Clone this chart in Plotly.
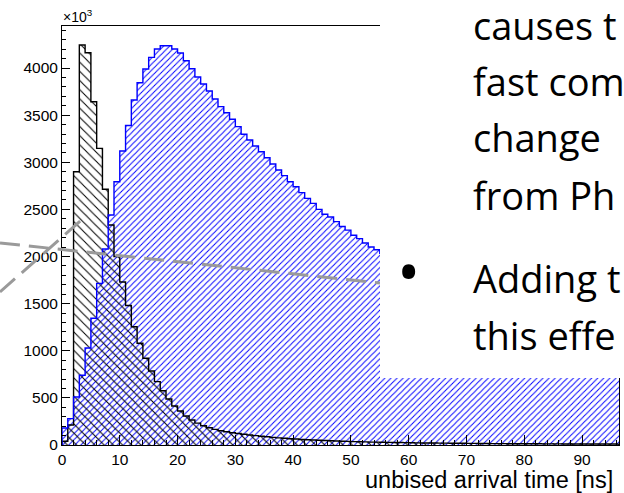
import plotly.graph_objects as go

# ---------------- data (1 ns bins, counts in units of 10^3) ----------------
bin_low = list(range(0, 97))

blue_counts = [
    180, 280, 510, 740, 1030, 1345, 1715, 2080, 2440, 2794,
    3120, 3390, 3660, 3844, 3990, 4113, 4202, 4237, 4237, 4202,
    4160, 4078, 3993, 3905, 3830, 3756, 3671, 3590, 3526, 3456,
    3378, 3297, 3236, 3172, 3112, 3048, 2981, 2918, 2858, 2794,
    2741, 2678, 2617, 2564, 2500, 2448, 2420, 2370, 2318, 2280,
    2225, 2190, 2143, 2101, 2072, 2035, 1998, 1962, 1927, 1893,
    1860, 1827, 1795, 1764, 1733, 1703, 1674, 1645, 1617, 1590,
    1563, 1537, 1511, 1486, 1461, 1437, 1413, 1390, 1367, 1345,
    1323, 1302, 1281, 1260, 1240, 1220, 1201, 1182, 1163, 1145,
    1127, 1110, 1093, 1076, 1060, 1044, 1028,
]

black_counts = [
    40, 212, 2900, 4244, 4162, 3642, 3148, 2713, 2334, 2000,
    1730, 1480, 1255, 1079, 920, 785, 672, 576, 488, 414,
    360, 308, 265, 232, 205, 183, 166, 152, 140, 130,
    122, 114, 106, 99, 93, 87, 81, 76, 71, 67,
    63, 59, 56, 53, 50, 47, 45, 42, 40, 38,
    36, 34, 33, 31, 30, 29, 28, 27, 26, 25,
    24, 23, 22, 22, 21, 20, 20, 19, 18, 18,
    17, 17, 16, 16, 15, 15, 15, 14, 14, 14,
    13, 13, 13, 12, 12, 12, 12, 11, 11, 11,
    11, 10, 10, 10, 10, 10, 9,
]

x_ticks = [0, 10, 20, 30, 40, 50, 60, 70, 80, 90]
y_ticks = [0, 500, 1000, 1500, 2000, 2500, 3000, 3500, 4000]

x_title = "unbised arrival time [ns]"
slide_lines = ["causes t", "fast com", "change", "from Ph", "Adding t", "this effe"]

# ---------------- geometry helpers (pixel -> paper) ----------------
W, H = 624, 493
ML, MR, MT, MB = 62, 5, 26, 48
PW, PH = W - ML - MR, H - MT - MB


def px(xp):
    return (xp - ML) / PW


def py(yp):
    return (H - MB - yp) / PH


centers = [b + 0.5 for b in bin_low]
edges = bin_low + [bin_low[-1] + 1]


def step(vals):
    xs = [edges[0]] + edges
    ys = [0] + vals + [vals[-1]]
    return xs, ys


fig = go.Figure()

fig.add_trace(go.Bar(
    x=centers, y=blue_counts, width=1,
    marker=dict(color="blue", line=dict(width=0),
                pattern=dict(shape="/", fgcolor="blue", bgcolor="rgba(0,0,0,0)",
                             size=4.3, solidity=0.22, fillmode="replace")),
    hoverinfo="skip", showlegend=False))

fig.add_trace(go.Bar(
    x=centers, y=black_counts, width=1,
    marker=dict(color="black", line=dict(width=0),
                pattern=dict(shape="\\", fgcolor="black", bgcolor="rgba(0,0,0,0)",
                             size=6.5, solidity=0.16, fillmode="replace")),
    hoverinfo="skip", showlegend=False))

bx, by = step(black_counts)
fig.add_trace(go.Scatter(x=bx, y=by, mode="lines", line=dict(color="black", width=1.4, shape="hv"),
                         hoverinfo="skip", showlegend=False))
ux, uy = step(blue_counts)
fig.add_trace(go.Scatter(x=ux, y=uy, mode="lines", line=dict(color="blue", width=1.4, shape="hv"),
                         hoverinfo="skip", showlegend=False))

axis_font = dict(family="Liberation Sans, Arial, sans-serif", size=15.5, color="black")

fig.update_layout(
    width=W, height=H, autosize=False,
    margin=dict(l=ML, r=MR, t=MT, b=MB, pad=0),
    paper_bgcolor="white", plot_bgcolor="white",
    barmode="overlay", bargap=0,
    xaxis=dict(range=[0, 96.4], tickvals=x_ticks, ticks="inside", ticklen=10, tickwidth=1,
               tickcolor="black", showline=True, linecolor="black", linewidth=1, mirror=True,
               showgrid=False, zeroline=False, tickfont=axis_font,
               minor=dict(dtick=2, tick0=0, ticks="inside", ticklen=5, tickcolor="black", showgrid=False)),
    yaxis=dict(range=[0, 4446], tickvals=y_ticks, ticks="inside", ticklen=8, tickwidth=1,
               tickcolor="black", showline=True, linecolor="black", linewidth=1, mirror=True,
               showgrid=False, zeroline=False, tickfont=axis_font,
               minor=dict(dtick=100, tick0=0, ticks="inside", ticklen=4, tickcolor="black", showgrid=False)),
)

shapes = []
dash_style = dict(color="#9a9a9a", width=3, dash="20px,9px")
shapes.append(dict(type="line", xref="paper", yref="paper", x0=px(0), y0=py(243), x1=px(380), y1=py(283),
                   line=dash_style, layer="above"))
shapes.append(dict(type="line", xref="paper", yref="paper", x0=px(0), y0=py(292), x1=px(87), y1=py(215),
                   line=dash_style, layer="above"))
# white slide text box covering part of the plot
shapes.append(dict(type="rect", xref="paper", yref="paper", x0=px(380), x1=px(640), y0=py(378), y1=py(-20),
                   fillcolor="white", line=dict(width=0), layer="above"))
fig.update_layout(shapes=shapes)

ann = []
ann.append(dict(text=x_title, xref="paper", yref="paper", x=px(614), y=py(479.5), xanchor="right",
                yanchor="middle", showarrow=False, borderpad=0,
                font=dict(family="Liberation Sans, Arial, sans-serif", size=23.5, color="black")))
ann.append(dict(text="×10<sup>3</sup>", xref="paper", yref="paper", x=px(61), y=py(16), xanchor="left",
                yanchor="middle", showarrow=False, font=dict(family="Liberation Sans, Arial, sans-serif",
                                                             size=14, color="black")))
baselines = [42, 98, 154, 212, 295, 352]
slide_font = dict(family="Open Sans, Noto Sans, sans-serif", size=38, color="black")
for txt, bl in zip(slide_lines, baselines):
    ann.append(dict(text=txt, xref="paper", yref="paper", x=px(471), y=py(bl - 17), xanchor="left",
                    yanchor="middle", showarrow=False, font=slide_font))
ann.append(dict(text="•", xref="paper", yref="paper", x=px(408), y=py(270), xanchor="center",
                yanchor="middle", showarrow=False,
                font=dict(family="Open Sans, Noto Sans, sans-serif", size=62, color="black")))
fig.update_layout(annotations=ann)

fig.write_html("out.html")
